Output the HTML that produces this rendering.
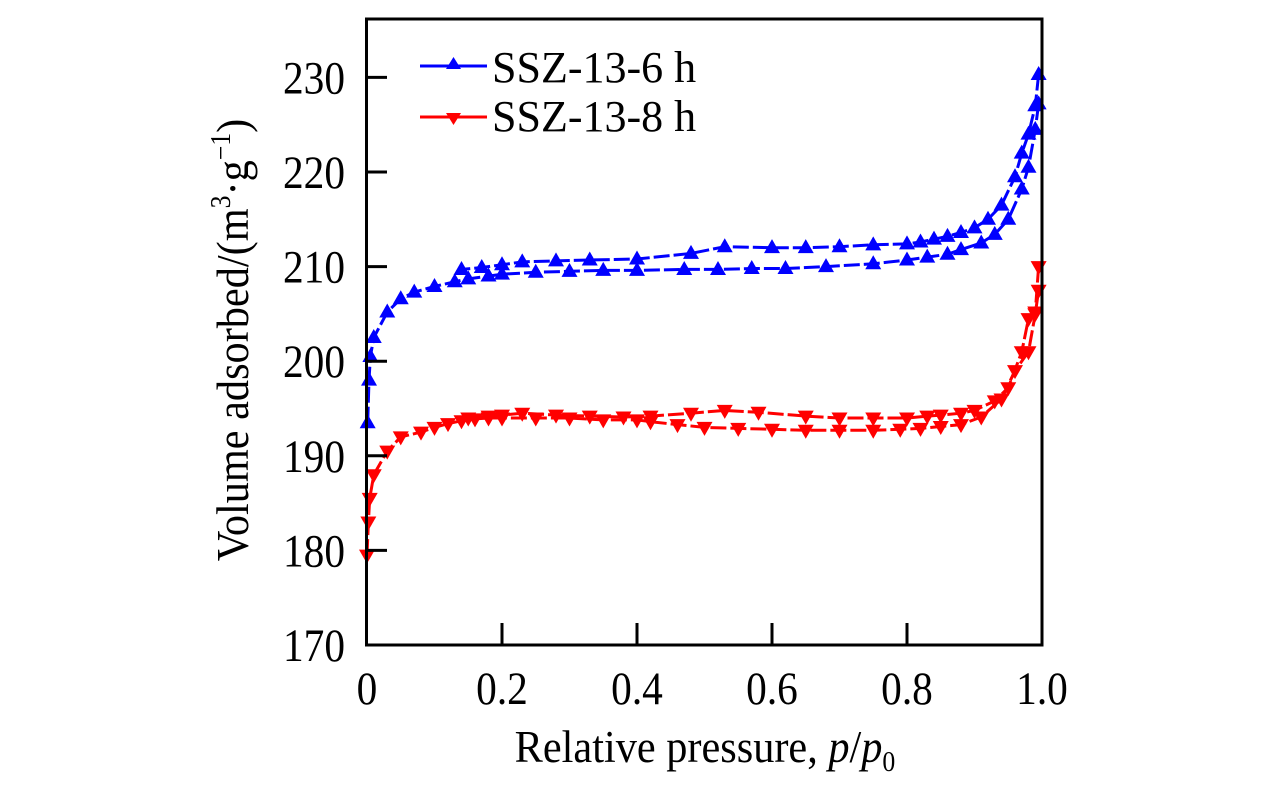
<!DOCTYPE html>
<html><head><meta charset="utf-8"><style>
body{margin:0;background:#fff;}
svg{display:block;font-family:"Liberation Serif",serif;}
</style></head><body>
<svg id="chart" width="1276" height="787">
<g id="marks"></g>
<rect x="366.5" y="19" width="675.5" height="626" fill="none" stroke="#000" stroke-width="3"/>
<g id="axes"></g>
<g transform="translate(248 340) rotate(-90) scale(0.92 1)">
<text x="0" y="0" font-size="46" text-anchor="middle">Volume adsorbed/(m<tspan font-size="28" dy="-18">3</tspan><tspan dy="18">·g</tspan><tspan font-size="28" dy="-18">−1</tspan><tspan dy="18">)</tspan></text>
</g>
<g transform="translate(705 762) scale(0.92 1)">
<text x="0" y="0" font-size="46" text-anchor="middle">Relative pressure, <tspan font-style="italic">p</tspan>/<tspan font-style="italic">p</tspan><tspan font-size="28" dy="9">0</tspan></text>
</g>
<g>
<line x1="420" y1="66" x2="487" y2="66" stroke="#0000ff" stroke-width="3"/>
<polygon points="453.5,57 461,69 446,69" fill="#0000ff"/>
<text x="492" y="82" font-size="44">SSZ-13-6 h</text>
<line x1="420" y1="117" x2="487" y2="117" stroke="#ff0000" stroke-width="3"/>
<polygon points="446,113 461,113 453.5,125" fill="#ff0000"/>
<text x="492" y="131" font-size="44">SSZ-13-8 h</text>
</g>
</svg>
<script>
const xTicks=[0,0.2,0.4,0.6,0.8,1.0];
const xTickLabels=["0","0.2","0.4","0.6","0.8","1.0"];
const yTicks=[170,180,190,200,210,220,230];
const blueAdsP=[0.001,0.003,0.005,0.01,0.03,0.05,0.07,0.1,0.13,0.15,0.18,0.2,0.25,0.3,0.35,0.4,0.47,0.52,0.57,0.62,0.68,0.75,0.8,0.83,0.86,0.88,0.91,0.93,0.95,0.97,0.98,0.99,0.995];
const blueAdsV=[193.5,198,200.5,202.5,205.2,206.6,207.3,207.9,208.4,208.7,209.0,209.2,209.4,209.5,209.6,209.6,209.7,209.7,209.8,209.8,210.0,210.3,210.7,211.0,211.3,211.8,212.5,213.4,215.0,218.2,220.5,224.5,227.2];
const blueDesP=[0.995,0.99,0.98,0.97,0.96,0.94,0.92,0.9,0.88,0.86,0.84,0.82,0.8,0.75,0.7,0.65,0.6,0.53,0.48,0.4,0.33,0.28,0.23,0.2,0.17,0.14];
const blueDesV=[230.3,227,224,222,219.5,216.5,215,214.1,213.6,213.2,212.9,212.6,212.4,212.3,212.1,212.0,212.0,212.1,211.4,210.8,210.7,210.6,210.5,210.2,209.9,209.7];
const redAdsP=[0.0,0.002,0.004,0.01,0.03,0.05,0.08,0.1,0.12,0.14,0.16,0.18,0.2,0.25,0.3,0.35,0.4,0.42,0.46,0.5,0.55,0.6,0.65,0.7,0.75,0.79,0.82,0.85,0.88,0.91,0.94,0.96,0.98,0.99,0.995];
const redAdsV=[179.5,183,185.5,188,190.5,192,192.5,193,193.4,193.7,193.9,194.0,194.0,194.0,194.0,193.8,193.8,193.6,193.3,193.0,192.9,192.8,192.7,192.7,192.7,192.8,192.9,193.1,193.3,194.1,196.0,199.0,201.0,205,207.5];
const redDesP=[0.995,0.99,0.98,0.97,0.95,0.93,0.9,0.88,0.85,0.83,0.8,0.75,0.7,0.65,0.58,0.53,0.48,0.42,0.38,0.33,0.28,0.23,0.2,0.18,0.15];
const redDesV=[210,205.2,204.5,201,197.2,195.8,194.8,194.5,194.3,194.2,194.0,194.0,194.0,194.2,194.6,194.8,194.5,194.2,194.1,194.2,194.3,194.5,194.3,194.2,194.0];

const NS="http://www.w3.org/2000/svg";
const X=p=>367+p*675;
const Y=v=>645-(v-170)*9.46;
const axes=document.getElementById('axes');
const marks=document.getElementById('marks');
function mk(tag,attrs,parent){const e=document.createElementNS(NS,tag);for(const k in attrs)e.setAttribute(k,attrs[k]);parent.appendChild(e);return e;}
xTicks.forEach((t,i)=>{
  if(i>0&&i<xTicks.length-1){const l=mk('line',{x1:X(t),x2:X(t),y1:645,y2:623,stroke:'#000','stroke-width':3},axes);
  
  }
  const tx=mk('text',{'font-size':47,'text-anchor':'middle',transform:`translate(${X(t)} 704) scale(0.88 1)`},axes);tx.textContent=xTickLabels[i];
  
  
});
yTicks.forEach(t=>{
  if(t>170){const l=mk('line',{x1:367,x2:387,y1:Y(t),y2:Y(t),stroke:'#000','stroke-width':3},axes);
  
  }
  const tx=mk('text',{'font-size':47,'text-anchor':'end',transform:`translate(345 ${Y(t)+16}) scale(0.88 1)`},axes);tx.textContent=String(t);
  
  
});
function series(P,V,color,up,name){
  const g=mk('g',{},marks);
  
  
  const d=P.map((p,i)=>(i?'L':'M')+X(p).toFixed(1)+','+Y(V[i]).toFixed(1)).join(' ');
  const path=mk('path',{d:d,fill:'none',stroke:color,'stroke-width':3,'stroke-dasharray':'16 4'},g);
  
  
  P.forEach((p,i)=>{const x=X(p),y=Y(V[i]);
    const pts=up?`${x},${y-8.5} ${x+8},${y+5.5} ${x-8},${y+5.5}`:`${x-8},${y-5.5} ${x+8},${y-5.5} ${x},${y+8.5}`;
    const m=mk('polygon',{points:pts,fill:color},g);
    
    });
}
series(blueAdsP,blueAdsV,'#0000ff',true,'series-6h-adsorption');
series(blueDesP,blueDesV,'#0000ff',true,'series-6h-desorption');
series(redAdsP,redAdsV,'#ff0000',false,'series-8h-adsorption');
series(redDesP,redDesV,'#ff0000',false,'series-8h-desorption');
</script>
</body></html>
